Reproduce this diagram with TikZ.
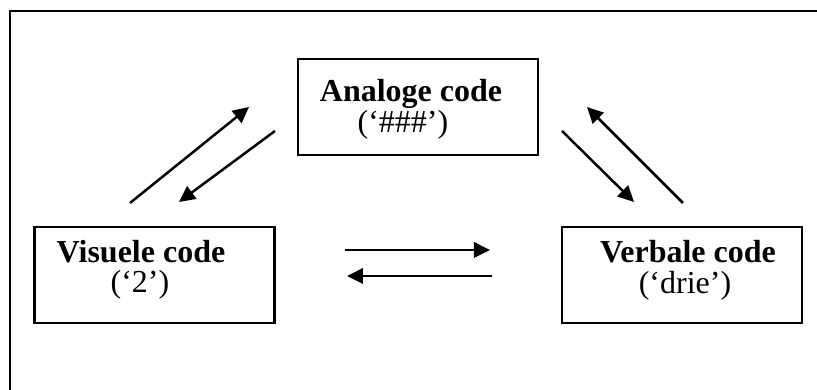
\documentclass[tikz,border=0pt]{standalone}
\usepackage{fontspec}
\setmainfont{Liberation Serif}
\usetikzlibrary{arrows.meta}

\begin{document}
\begin{tikzpicture}[x=0.3pt, y=-0.3pt,
          codebox/.style={rectangle, draw, line width=0.75pt,
                          minimum width=72pt, minimum height=28.8pt, inner sep=0pt},
          title/.style={font=\fontsize{9.6}{11}\selectfont\bfseries, inner sep=0pt, anchor=base},
          sub/.style={font=\fontsize{9.6}{11}\selectfont, inner sep=0pt, anchor=base},
          arr/.style={-{Triangle[length=4.8pt, width=4.6pt]}, line width=0.75pt}
        ]
        \useasboundingbox (0,0) rectangle (817,390);

        % Frame
        \draw[line width=0.8pt] (10,390) |- (817,11);

        % Analoge code
        \node[codebox] (ana) at (418,107) {};
        \node[title] (anatitle) at (411,102) {Analoge code};
        \node[sub]   (anasub)   at (403,133) {(‘\#\#\#’)};

        % Visuele code
        \node[codebox] (vis) at (154.5,275) {};
        \node[title] (vistitle) at (141,263) {Visuele code};
        \node[sub]   (vissub)   at (140,293) {(‘2’)};

        % Verbale code
        \node[codebox] (verb) at (682,275) {};
        \node[title] (verbtitle) at (688,263) {Verbale code};
        \node[sub]   (verbsub)   at (685,294) {(‘drie’)};

        % Arrow ends
        \coordinate (va1) at (130,203);
        \coordinate (va2) at (249,107);
        \coordinate (av1) at (275,131);
        \coordinate (av2) at (179,202);
        \coordinate (ab1) at (562,131);
        \coordinate (ab2) at (634,202);
        \coordinate (ba1) at (683,203);
        \coordinate (ba2) at (587,107);
        \coordinate (vb1) at (345,250);
        \coordinate (vb2) at (490,250);
        \coordinate (bv1) at (492,276);
        \coordinate (bv2) at (347,276);

        \draw[arr] (va1) -- (va2);
        \draw[arr] (av1) -- (av2);
        \draw[arr] (ab1) -- (ab2);
        \draw[arr] (ba1) -- (ba2);
        \draw[arr] (vb1) -- (vb2);
        \draw[arr] (bv1) -- (bv2);
      \end{tikzpicture}
\end{document}
